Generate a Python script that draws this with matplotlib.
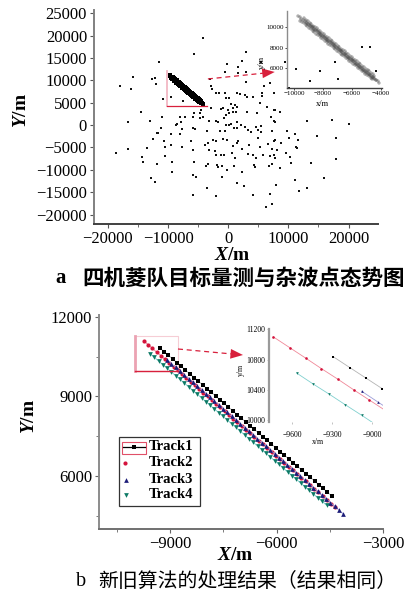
import matplotlib
matplotlib.use('Agg')
import matplotlib.pyplot as plt
from matplotlib.lines import Line2D
from matplotlib.patches import Rectangle
from matplotlib.ticker import MultipleLocator, FixedLocator

plt.rcParams['font.family'] = ['Liberation Serif', 'Noto Sans CJK SC']
plt.rcParams['mathtext.fontset'] = 'custom'
plt.rcParams['mathtext.it'] = 'Liberation Serif:italic:bold'
plt.rcParams['mathtext.rm'] = 'Liberation Serif:bold'

# ---------------- data ----------------
track1_x = [-9290, -9168, -9049, -8926, -8807, -8684, -8565, -8443, -8322, -8200, -8081, -7958, -7839, -7717,
            -7596, -7475, -7353, -7232, -7110, -6991, -6868, -6748, -6626, -6505, -6383, -6262, -6141, -6019,
            -5898, -5777, -5655, -5534, -5413, -5291, -5170, -5049, -4928, -4806, -4686, -4567, -4450]
track1_y = [10835, 10693, 10556, 10414, 10276, 10134, 9997, 9855, 9716, 9578, 9437, 9298, 9157, 9019, 8878,
            8740, 8598, 8461, 8319, 8181, 8040, 7902, 7760, 7623, 7481, 7344, 7202, 7065, 6923, 6786, 6644,
            6507, 6365, 6228, 6086, 5949, 5807, 5670, 5529, 5390, 5250]
track2_x = [-9740, -9618, -9499, -9380, -9259, -9140, -9021, -8899, -8780, -8660, -8541, -8420, -8300, -8181,
            -8060, -7940, -7821, -7700, -7580, -7461, -7340, -7220, -7101, -6980, -6860, -6741, -6620, -6500,
            -6381, -6260, -6140, -6021, -5900, -5780, -5661, -5540, -5420, -5301, -5180, -5060, -4941, -4820,
            -4700, -4581, -4460, -4350]
track2_y = [11100, 10958, 10820, 10679, 10541, 10400, 10262, 10121, 9983, 9842, 9704, 9563, 9425, 9284, 9146,
            9005, 8867, 8726, 8588, 8447, 8309, 8168, 8030, 7889, 7751, 7610, 7472, 7331, 7193, 7052, 6914,
            6773, 6635, 6494, 6356, 6215, 6077, 5936, 5798, 5657, 5519, 5378, 5240, 5099, 4961, 4820]
track3_x = [-9080, -8958, -8838, -8716, -8596, -8475, -8353, -8233, -8111, -7991, -7870, -7748, -7628, -7506,
            -7386, -7265, -7143, -7023, -6901, -6781, -6660, -6538, -6418, -6296, -6176, -6055, -5933, -5813,
            -5691, -5571, -5450, -5328, -5208, -5086, -4966, -4845, -4723, -4603, -4481, -4361, -4240, -4120]
track3_y = [10380, 10237, 10097, 9954, 9813, 9671, 9529, 9388, 9246, 9104, 8963, 8821, 8679, 8538, 8396, 8254,
            8113, 7971, 7829, 7688, 7546, 7404, 7263, 7121, 6979, 6838, 6696, 6554, 6413, 6271, 6129, 5988,
            5846, 5704, 5563, 5421, 5279, 5138, 4996, 4854, 4713, 4570]
track4_x = [-9565, -9444, -9322, -9201, -9080, -8960, -8838, -8717, -8596, -8475, -8353, -8232, -8111, -7990,
            -7869, -7747, -7626, -7505, -7384, -7263, -7141, -7020, -6899, -6778, -6657, -6535, -6414, -6293,
            -6172, -6051, -5929, -5808, -5687, -5566, -5445, -5323, -5202, -5081, -4960, -4839, -4711, -4590]
track4_y = [10620, 10478, 10341, 10200, 10062, 9921, 9783, 9642, 9504, 9363, 9225, 9084, 8946, 8805, 8667,
            8526, 8388, 8247, 8109, 7968, 7830, 7689, 7551, 7410, 7272, 7131, 6993, 6852, 6714, 6573, 6435,
            6294, 6156, 6015, 5877, 5736, 5598, 5457, 5319, 5178, 5040, 4900]

clutter_x = [
    -4150, -5690, -11440, -15750, -17960, -16090, -12600, -12210, -11990, -10830, -9450, -7460, -14530,
    -2820, -2650, -3100, -2090, -1540, -550, -380, 120, 400, 1610, 1610, -600, -4580, -4690, -5690,
    -2820, -1260, 830, -830, -430, 120,
    -16630, -12990, -11050, -8010, -7230, -5800, -4690, -4150, -3200, -2090, -1710, -710, 120, 500, 950,
    1490, -8720, -8460, -7790, -11210, -11870, -11660, -9450, -7630, -8010, -5800, -5570, -3480, -1380,
    -430, -550, -12440, -10660, -6240, -3910, -3370, -2540, -1990, -830, -170, -13430, -16580, -10500,
    -9450, -7730, -5800, -3200, -2260, -1990, -1160, -710, -18670, -14260, -14100, -11870, -10500, -9390,
    -5690, -3750, -3370, -1920, -1710, -1000, -270, -9290, -5800, -5410, -12870, -12210, -1090, 1490,
    -3480, -5800, -1990,
    3710, 4590, 5420, 5420, 11060, 11610, 14760, 17980, 1660, 1390, 3430, 4980, 6630, 7580, 7740, 8860,
    10120, 11230, 11510, 730, 560, 2220, 5370, 7360, 8190, 9690, 1110, 3320, 4150, 4590, 5800, 6920,
    7580, 7740, 10230, 950, 4260, 4430, 6800, 7200, 8690, 10510, 13830, 17860, 2220, 11060, 15870, 2600,
    7910, 13100, 11770, 4150, 7030, 7200, 6250, 1490,
    -270, 2220, 5420, 11340, 17690, 2890, 5970, 6920, 10070, 13550, 1390, 1940, 2770, 3050, 5700, 5700,
    7630, 4150, 1110, 1390, -100, 830, 1230, 3050, 4710, 5260, 6370, 7630, 7860, 8570, 7630, 7860, 7080,
    2110, 2770, 3320, 4980, 7200, 9850, 13170, 17250, 20020,
    22290, 23500, 15210, 18240, 24500, 2930, 9400, 3040]
clutter_y = [
    19540, 15830, 14170, 10810, 8660, 7990, 10230, 10450, 9180, 5750, 6340, 5440, 2980,
    8800, 7990, 10300, 7100, 7230, 7230, 5980, 5980, 4700, 13060, 11570, 11930, 3360, 2620, 2620,
    3740, 3510, 3740, 3740, 2240, 2620,
    740, 960, 1860, 1860, 1860, 1860, 1640, 1860, 900, 900, 600, 1500, 0, 160, -600,
    740, 0, 160, 600, -600, -1860, -1720, -2090, -900, -2090, -600, -900, -1340, -1340,
    0, -1340, -3130, -3580, -3580, -4480, -4100, -3360, -3580, -3130, -3360, -5080, -5440, -4860,
    -4480, -4860, -5600, -5600, -5820, -6720, -6720, -6720, -6340, -7100, -8210, -8730, -6870, -8210,
    -8210, -9110, -8800, -8960, -9330, -9110, -10070, -10450, -11190, -11570, -11800, -12830, -11570, -13050,
    -14040, -15670, -15820,
    -1640, -380, -160, -1490, -2090, -3360, -2390, -2840, -3580, -4100, -4480, -2990, -4330, -3580, -3360, -4100,
    -2990, -4860, -5220, -4630, -6340, -5370, -4860, -5370, -5600, -6340, -7460, -6560, -6720, -7460, -6720, -6870,
    -6720, -7460, -7090, -9110, -8960, -9330, -9110, -8800, -9550, -8580, -8580, -7610, -10450, -12310, -11800, -13590,
    -13280, -14170, -14780, -15670, -15450, -17690, -18290, -740,
    13650, 14330, 14180, 12540, 14180, 9700, 8730, 9470, 8220, 9920, 7230, 6940, 6720, 6340, 7090, 6490,
    7240, 6200, 4480, 4100, 3360, 2980, 2980, 2980, 2760, 4850, 4100, 3360, 3360, 2980, 960, 740, 1860,
    0, -380, -1120, -1120, -1270, -1270, 960, 1120, 220,
    17530, 17530, 12160, 10290, 12160, 16400, 14170, 11775]

track_names = ['Track1', 'Track2', 'Track3', 'Track4']
tracks = [(track1_x, track1_y), (track2_x, track2_y), (track3_x, track3_y), (track4_x, track4_y)]
markers = ['s', 'o', '^', 'v']
mcolors = ['#000000', '#d4143c', '#1c1c78', '#0e7a66']
lcolors = ['#b4b4b4', '#f08898', '#9c9cd8', '#80d0cf']
msizes = [3.0, 3.0, 3.4, 3.4]

top_xticks = [-20000, -10000, 0, 10000, 20000]
top_yticks = [-20000, -15000, -10000, -5000, 0, 5000, 10000, 15000, 20000, 25000]
bot_xticks = [-9000, -6000, -3000]
bot_yticks = [6000, 9000, 12000]
ins1_xticks = [-10000, -8000, -6000, -4000]
ins1_yticks = [6000, 8000, 10000]
ins2_xticks = [-9600, -9300, -9000]
ins2_yticks = [10000, 10400, 10800, 11200]

RED = '#d8203c'
PINK = '#f2b8c4'

# ---------------- figure ----------------
W, H = 415, 590
fig = plt.figure(figsize=(W / 100, H / 100), dpi=100)


def rect(l, t, r, b):
    return [l / W, 1 - b / H, (r - l) / W, (b - t) / H]


def fx(p):
    return p / W


def fy(p):
    return 1 - p / H


def style_spines(ax, left='#808080', bottom='#404040', lw=1.4):
    ax.spines['top'].set_visible(False)
    ax.spines['right'].set_visible(False)
    ax.spines['left'].set_color(left)
    ax.spines['bottom'].set_color(bottom)
    ax.spines['left'].set_linewidth(lw)
    ax.spines['bottom'].set_linewidth(lw)


# ===== panel a =====
ax1 = fig.add_axes(rect(94, 10, 378, 224))
ax1.set_xlim(-22300, 24900)
ax1.set_ylim(-22100, 25700)
style_spines(ax1)
ax1.xaxis.set_major_locator(FixedLocator(top_xticks))
ax1.yaxis.set_major_locator(FixedLocator(top_yticks))
ax1.xaxis.set_minor_locator(MultipleLocator(5000))
ax1.tick_params(labelsize=12, length=3, width=0.8, pad=2, color='#555555')
ax1.tick_params(which='minor', length=2, width=0.6, color='#555555')
ax1.plot(clutter_x, clutter_y, ls='none', marker='s', ms=2.0, mew=0, color='#111111')
for (tx, ty) in tracks:
    ax1.plot(tx, ty, ls='none', marker='s', ms=2.6, mew=0, color='#000000')
# zoom box & arrow
ax1.plot([-10170, -10170], [4250, 12080], color=PINK, lw=1.3)
ax1.plot([-10170, -3530], [4250, 4250], color=RED, lw=0.9)
ax1.plot([-3370, 6300], [10300, 11650], color=RED, lw=0.9, ls=(0, (4, 3)))
ax1.annotate('', xy=(7740, 11860), xytext=(5800, 11580),
             arrowprops=dict(arrowstyle='-|>,head_length=0.9,head_width=0.35', color=RED, lw=0,
                             shrinkA=0, shrinkB=0))
ax1.set_xlabel(r'$X$/m', fontsize=14, fontweight='bold')
ax1.set_ylabel(r'$Y$/m', fontsize=14, fontweight='bold')
ax1.xaxis.set_label_coords((232 - 94) / 284, (224 - 255) / 214)
ax1.xaxis.label.set_va('center')
ax1.yaxis.set_label_coords((22 - 94) / 284, (224 - 110) / 214)
ax1.yaxis.label.set_va('center')

# inset a
ax1i = fig.add_axes(rect(287, 11, 382, 88))
ax1i.set_facecolor('none')
ax1i.set_xlim(-10480, -3930)
ax1i.set_ylim(4050, 11560)
style_spines(ax1i, left='#8c8c8c', bottom='#404040', lw=1.0)
ax1i.xaxis.set_major_locator(FixedLocator(ins1_xticks))
ax1i.yaxis.set_major_locator(FixedLocator(ins1_yticks))
ax1i.tick_params(labelsize=5, length=1.5, width=0.5, pad=1)
for (tx, ty) in tracks:
    ax1i.plot(tx, ty, ls='none', marker='s', ms=1.5, mfc='none', mec='#444444', mew=0.35)
ax1i.set_xlabel('x/m', fontsize=6)
ax1i.set_ylabel('y/m', fontsize=6)
ax1i.xaxis.set_label_coords((322 - 287) / 95, (88 - 104) / 77)
ax1i.yaxis.set_label_coords((262 - 287) / 95, (88 - 62) / 77)
ax1i.xaxis.label.set_va('center')
ax1i.yaxis.label.set_va('center')

# ===== panel b =====
ax2 = fig.add_axes(rect(99, 315, 383, 529))
ax2.set_xlim(-11000, -3000)
ax2.set_ylim(4000, 12075)
style_spines(ax2, left='#8c8c8c', bottom='#707070', lw=1.4)
ax2.xaxis.set_major_locator(FixedLocator(bot_xticks))
ax2.yaxis.set_major_locator(FixedLocator(bot_yticks))
ax2.xaxis.set_minor_locator(MultipleLocator(1500))
ax2.yaxis.set_minor_locator(MultipleLocator(1500))
ax2.tick_params(labelsize=12, length=3, width=0.8, pad=2, color='#666666')
ax2.tick_params(which='minor', length=2, width=0.6, color='#666666')
for (tx, ty), m, mc, lc, ms in zip(tracks, markers, mcolors, lcolors, msizes):
    ax2.plot(tx, ty, color=lc, lw=0.7, marker=m, ms=ms, mfc=mc, mec=mc, mew=0)
ax2.add_patch(Rectangle((-9995, 9960), 1229, 1330, fill=False, ec='#f6cdd5', lw=0.8))
ax2.plot([-9995, -9995], [9960, 11290], color='#eba3b3', lw=2.0)
ax2.plot([-9995, -8766], [9960, 9960], color=RED, lw=1.0)
ax2.plot([-8775, -7250], [10792, 10604], color=RED, lw=0.9, ls=(0, (4, 3)))
ax2.annotate('', xy=(-6944, 10566), xytext=(-7300, 10610),
             arrowprops=dict(arrowstyle='-|>,head_length=0.9,head_width=0.35', color=RED, lw=0,
                             shrinkA=0, shrinkB=0))
ax2.set_xlabel(r'$X$/m', fontsize=14, fontweight='bold')
ax2.set_ylabel(r'$Y$/m', fontsize=14, fontweight='bold')
ax2.xaxis.set_label_coords((235 - 99) / 284, (529 - 555) / 214)
ax2.xaxis.label.set_va('center')
ax2.yaxis.set_label_coords((29 - 99) / 284, (529 - 416) / 214)
ax2.yaxis.label.set_va('center')

# inset b
ax2i = fig.add_axes(rect(269, 329.3, 383.4, 421.5))
ax2i.set_facecolor('none')
ax2i.set_xlim(-9772, -8917)
ax2i.set_ylim(9979, 11200)
style_spines(ax2i, left='#9a9a9a', bottom='#9a9a9a', lw=1.6)
ax2i.spines['bottom'].set_visible(False)
ax2i.xaxis.set_major_locator(FixedLocator(ins2_xticks))
ax2i.yaxis.set_major_locator(FixedLocator(ins2_yticks))
ax2i.tick_params(labelsize=5.5, length=1.5, width=0.5, pad=1, color='#aaaaaa')
ax2i.tick_params(axis='x', pad=5)
for (tx, ty), m, mc, lc in zip(tracks, markers, mcolors, lcolors):
    ax2i.plot(tx, ty, color=lc, lw=0.6, marker=m, ms=1.9, mfc=mc, mec=mc, mew=0)
ax2i.set_xlabel('x/m', fontsize=5.5)
ax2i.set_ylabel('y/m', fontsize=5.5)
ax2i.xaxis.set_label_coords((318 - 269) / 114.4, (421.5 - 442) / 92.2)
ax2i.yaxis.set_label_coords((241 - 269) / 114.4, (421.5 - 370) / 92.2)
ax2i.xaxis.label.set_va('center')
ax2i.yaxis.label.set_va('center')

# legend (drawn by hand in figure space)
fig.add_artist(Rectangle((fx(119), fy(506)), (200 - 119) / W, (506 - 437) / H,
                         transform=fig.transFigure, fill=False, ec='#333333', lw=0.9))
fig.add_artist(Rectangle((fx(122), fy(453.5)), 24 / W, 12 / H,
                         transform=fig.transFigure, fill=False, ec='#e05068', lw=0.8))
fig.add_artist(Line2D([fx(123), fx(145)], [fy(447), fy(447)], transform=fig.transFigure,
                      color='#000000', lw=0.9))
leg_pos = [(134, 447), (125, 463), (126, 479.5), (126, 495)]
for name, (lx, ly), m, mc, ms in zip(track_names, leg_pos, markers, mcolors, msizes):
    fig.add_artist(Line2D([fx(lx)], [fy(ly)], transform=fig.transFigure, ls='none',
                          marker=m, ms=ms, mfc=mc, mec=mc, mew=0))
    fig.text(fx(149), fy(ly), name, fontsize=10.5, fontweight='bold', va='center', ha='left',
             family='Liberation Serif')

# captions
fig.text(fx(55), fy(278), 'a', fontsize=15, fontweight='bold', va='center', ha='left',
         family='Liberation Serif')
fig.text(fx(82), fy(278), '四机菱队目标量测与杂波点态势图', fontsize=15.5, fontweight='bold',
         va='center', ha='left', family=['Noto Sans CJK SC'])
fig.text(fx(76), fy(581), 'b', fontsize=14.5, va='center', ha='left', family='Liberation Serif')
fig.text(fx(98), fy(581), '新旧算法的处理结果（结果相同）', fontsize=14.3,
         va='center', ha='left', family=['Noto Sans CJK SC'])

fig.savefig('out.png', dpi=100)
